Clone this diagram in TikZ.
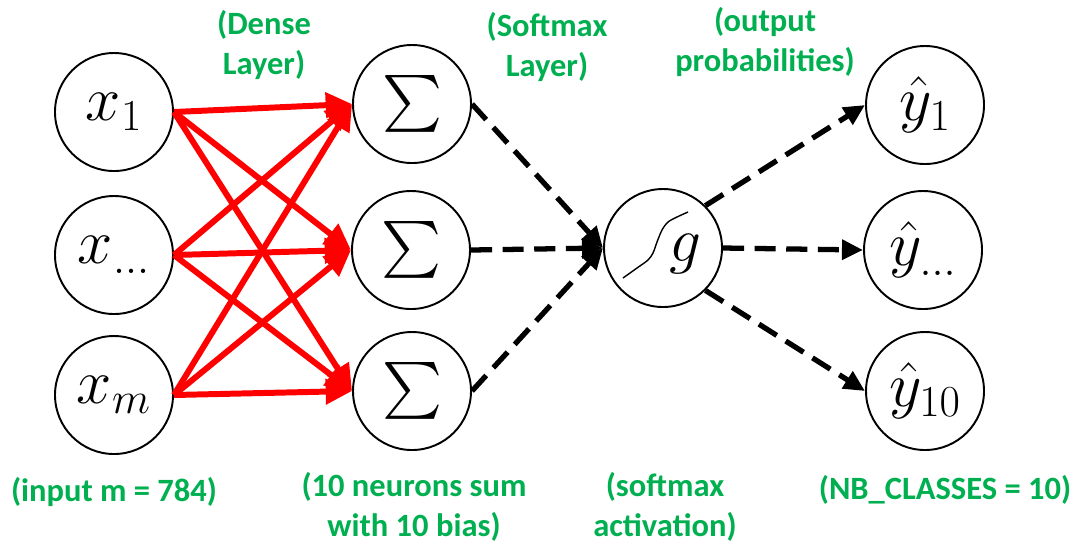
\documentclass[tikz,border=0pt]{standalone}
\usepackage{fix-cm}
\usepackage{exscale}
\usepackage{graphicx}
\usepackage{fontspec}
\newfontfamily\notefont{Carlito}
\usetikzlibrary{arrows.meta,calc}
\definecolor{notegreen}{RGB}{0,176,80}
\newcommand{\bigsum}{\scalebox{1.3}{$\sum$}}
\tikzset{
    neuron/.style = {
        circle,
        draw,
        line width   = 1.1pt,
        minimum size = 2.36cm,
        inner sep    = 0pt,
        font         = \fontsize{36}{40}\selectfont,
    },
    note/.style = {
        text  = notegreen,
        align = center,
        font  = \notefont\bfseries\fontsize{18.5}{22.5}\selectfont,
    },
    dense/.style = {
        red,
        line width = 3.4pt,
        -{Triangle[length=15pt,width=14pt]},
    },
    soft/.style = {
        black,
        line width   = 3pt,
        dash pattern = on 12pt off 6pt,
        -{Triangle[length=12pt,width=11pt]},
    }
}

\begin{document}
\begin{tikzpicture}
  % Fix the page to the size of the original figure.
  \path[use as bounding box] (0,0) rectangle (21.46,-10.84);

  % inputs
  \node[neuron] (x1) at (2.28,-2.24) {$x_1$};
  \node[neuron] (xd) at (2.28,-5.10) {$x_{\dots}$};
  \node[neuron] (xm) at (2.28,-7.90) {$x_m$};

  % sums
  \node[neuron] (s1) at (8.24,-2.08) {\bigsum};
  \node[neuron] (s2) at (8.22,-5.00) {\bigsum};
  \node[neuron] (s3) at (8.24,-7.82) {\bigsum};

  % softmax unit
  \node[neuron] (g) at (13.26,-4.96) {};
  \node[font=\fontsize{36}{40}\selectfont, inner sep=0pt]
    (glabel) at ($(g)+(0.44,-0.12)$) {$g$};
  \draw[line width=0.8pt, shift={(g.center)}] plot[smooth] coordinates
    {(-0.8,-0.6) (-0.52,-0.4) (-0.3,-0.24) (-0.2,-0.1) (-0.12,0.12)
     (-0.02,0.36) (0.1,0.52) (0.28,0.62) (0.5,0.72)};

  % outputs
  \node[neuron] (y1)  at (18.50,-2.10) {$\hat{y}_1$};
  \node[neuron] (yd)  at (18.46,-5.00) {$\hat{y}_{\dots}$};
  \node[neuron] (y10) at (18.50,-7.82) {$\hat{y}_{10}$};

  \foreach \i in {x1,xd,xm}
    \foreach \j in {s1,s2,s3}
      \draw[dense] (\i.east) -- (\j.west);
  \foreach \j in {s1,s2,s3}
    \draw[soft] (\j.east) -- (g.west);
  \draw[soft] (g.north east) -- (y1.west);
  \draw[soft] (g.east) -- (yd.west);
  \draw[soft] (g.south east) -- (y10.west);

  \node[note] (ndense)  at (5.28,-0.90)  {(Dense\\Layer)};
  \node[note] (nsoft)   at (10.94,-0.94) {(Softmax\\Layer)};
  \node[note] (nout)    at (15.30,-0.84) {(output\\probabilities)};
  \node[note] (ninput)  at (2.28,-9.84)  {(input m = 784)};
  \node[note] (nsum)    at (8.28,-10.14) {(10 neurons sum\\with 10 bias)};
  \node[note] (nact)    at (13.30,-10.14) {(softmax\\activation)};
  \node[note] (nclass)  at (18.90,-9.80) {(NB\_CLASSES = 10)};
\end{tikzpicture}
\end{document}
